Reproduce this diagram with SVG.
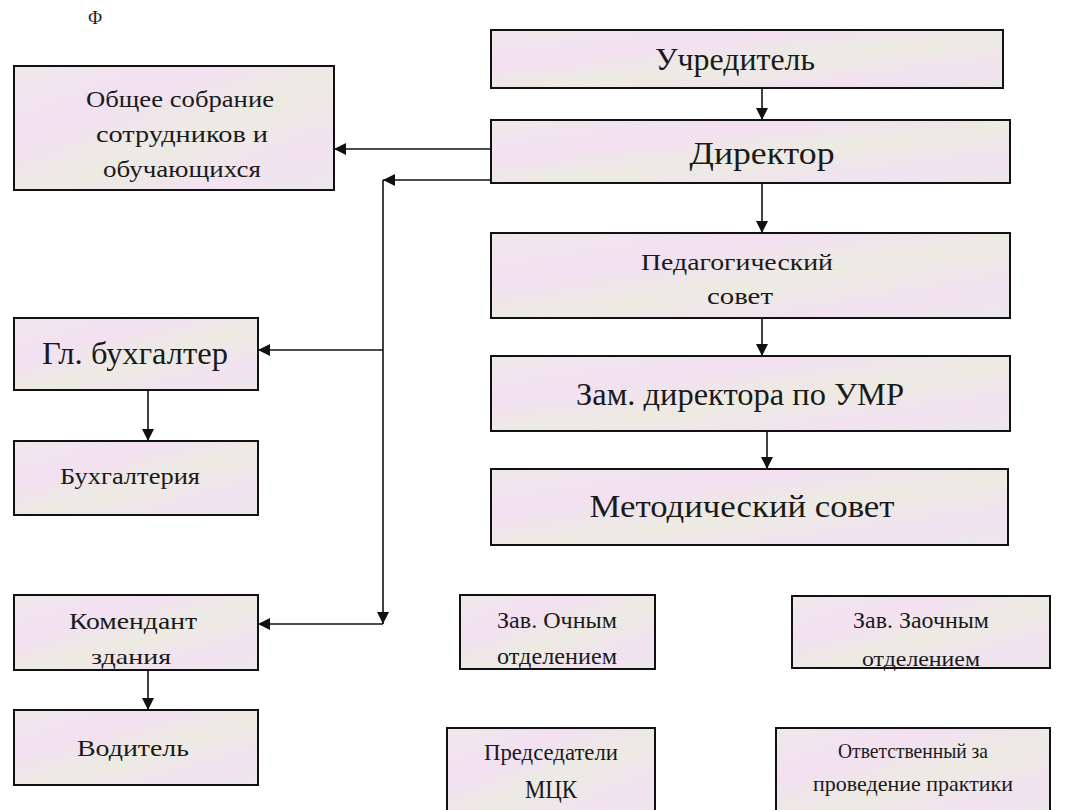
<svg xmlns="http://www.w3.org/2000/svg" width="1066" height="810" viewBox="0 0 1066 810">
<defs>
<linearGradient id="fill" x1="0" y1="0" x2="1" y2="1">
<stop offset="0" stop-color="#efe9ea"/>
<stop offset="0.3" stop-color="#f3e0f2"/>
<stop offset="0.55" stop-color="#ecebe2"/>
<stop offset="0.8" stop-color="#f2e2f0"/>
<stop offset="1" stop-color="#ebe8ea"/>
</linearGradient>
<marker id="a" viewBox="0 0 10 10" refX="10" refY="5" markerWidth="12" markerHeight="12" orient="auto" markerUnits="userSpaceOnUse">
<path d="M0,0 L10,5 L0,10 z" fill="#111"/>
</marker>
</defs>
<style>
.box{fill:url(#fill);stroke:#111;stroke-width:2}
.t{fill:#1a1a1a;text-anchor:middle}
.c{fill:none;stroke:#111;stroke-width:1.6}
</style>
<rect width="1066" height="810" fill="#ffffff"/>
<g font-family="Liberation Serif, Times New Roman, DejaVu Serif, serif">
<text class="t" x="95" y="24" font-size="18" fill="#555">Ф</text>

<g id="uchreditel"><rect class="box" x="491" y="30" width="512" height="58"/><text class="t" x="735" y="70" font-size="31" textLength="160" lengthAdjust="spacingAndGlyphs">Учредитель</text></g>
<g id="direktor"><rect class="box" x="491" y="120" width="519" height="63"/><text class="t" x="762" y="164" font-size="32" textLength="145" lengthAdjust="spacingAndGlyphs">Директор</text></g>
<g id="obshchee"><rect class="box" x="14" y="66" width="320" height="124"/><text class="t" x="180" y="107" font-size="24" textLength="188" lengthAdjust="spacingAndGlyphs">Общее собрание</text><text class="t" x="182" y="142" font-size="24" textLength="172" lengthAdjust="spacingAndGlyphs">сотрудников и</text><text class="t" x="182" y="177" font-size="24" textLength="158" lengthAdjust="spacingAndGlyphs">обучающихся</text></g>
<g id="pedsovet"><rect class="box" x="491" y="233" width="519" height="85"/><text class="t" x="737" y="270" font-size="23" textLength="192" lengthAdjust="spacingAndGlyphs">Педагогический</text><text class="t" x="740" y="304" font-size="23" textLength="66" lengthAdjust="spacingAndGlyphs">совет</text></g>
<g id="zam"><rect class="box" x="491" y="356" width="519" height="75"/><text class="t" x="740" y="405" font-size="31" textLength="328" lengthAdjust="spacingAndGlyphs">Зам. директора по УМР</text></g>
<g id="metod"><rect class="box" x="491" y="469" width="517" height="76"/><text class="t" x="742" y="517" font-size="31" textLength="305" lengthAdjust="spacingAndGlyphs">Методический совет</text></g>
<g id="glbuh"><rect class="box" x="14" y="318" width="244" height="72"/><text class="t" x="135" y="364" font-size="32" textLength="186" lengthAdjust="spacingAndGlyphs">Гл. бухгалтер</text></g>
<g id="buh"><rect class="box" x="14" y="441" width="244" height="74"/><text class="t" x="130" y="484" font-size="23" textLength="140" lengthAdjust="spacingAndGlyphs">Бухгалтерия</text></g>
<g id="komendant"><rect class="box" x="14" y="595" width="244" height="75"/><text class="t" x="133" y="629" font-size="24" textLength="128" lengthAdjust="spacingAndGlyphs">Комендант</text><text class="t" x="131" y="664" font-size="21" textLength="80" lengthAdjust="spacingAndGlyphs">здания</text></g>
<g id="voditel"><rect class="box" x="14" y="710" width="244" height="75"/><text class="t" x="133" y="756" font-size="24" textLength="112" lengthAdjust="spacingAndGlyphs">Водитель</text></g>
<g id="ochnoe"><rect class="box" x="460" y="595" width="195" height="74"/><text class="t" x="557" y="628" font-size="23" textLength="120" lengthAdjust="spacingAndGlyphs">Зав. Очным</text><text class="t" x="557" y="664" font-size="23" textLength="120" lengthAdjust="spacingAndGlyphs">отделением</text></g>
<g id="zaochnoe"><rect class="box" x="792" y="596" width="258" height="72"/><text class="t" x="921" y="628" font-size="23" textLength="136" lengthAdjust="spacingAndGlyphs">Зав. Заочным</text><text class="t" x="921" y="666" font-size="21" textLength="118" lengthAdjust="spacingAndGlyphs">отделением</text></g>
<g id="predsedateli"><rect class="box" x="447" y="728" width="208" height="90"/><text class="t" x="551" y="760" font-size="24" textLength="134" lengthAdjust="spacingAndGlyphs">Председатели</text><text class="t" x="551" y="798" font-size="25" textLength="52" lengthAdjust="spacingAndGlyphs">МЦК</text></g>
<g id="otvetstvenny"><rect class="box" x="776" y="728" width="274" height="90"/><text class="t" x="913" y="758" font-size="21" textLength="150" lengthAdjust="spacingAndGlyphs">Ответственный за</text><text class="t" x="913" y="791" font-size="21" textLength="200" lengthAdjust="spacingAndGlyphs">проведение практики</text></g>
</g>
<g id="connectors">
<line class="c" x1="762" y1="88" x2="762" y2="120" marker-end="url(#a)"/>
<line class="c" x1="491" y1="149" x2="334" y2="149" marker-end="url(#a)"/>
<line class="c" x1="491" y1="180" x2="383" y2="180" marker-end="url(#a)"/>
<line class="c" x1="383" y1="180" x2="383" y2="624" marker-end="url(#a)"/>
<line class="c" x1="383" y1="350" x2="258" y2="350" marker-end="url(#a)"/>
<line class="c" x1="383" y1="624" x2="258" y2="624" marker-end="url(#a)"/>
<line class="c" x1="762" y1="183" x2="762" y2="233" marker-end="url(#a)"/>
<line class="c" x1="762" y1="318" x2="762" y2="356" marker-end="url(#a)"/>
<line class="c" x1="767" y1="431" x2="767" y2="469" marker-end="url(#a)"/>
<line class="c" x1="148" y1="390" x2="148" y2="441" marker-end="url(#a)"/>
<line class="c" x1="148" y1="670" x2="148" y2="710" marker-end="url(#a)"/>
</g>
</svg>
